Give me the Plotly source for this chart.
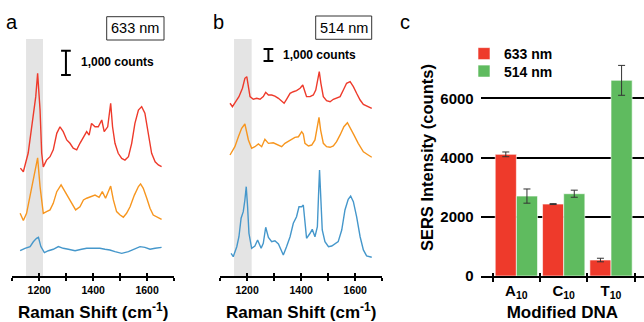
import plotly.graph_objects as go

# ---------------- Panel a (633 nm), counts; traces stacked with offsets ----------------
a_red_x = [1130, 1141, 1159, 1172, 1178, 1187, 1194, 1203, 1209, 1215, 1227, 1240, 1252, 1265, 1277, 1289,
           1302, 1314, 1326, 1339, 1351, 1364, 1376, 1385, 1394, 1407, 1419, 1432, 1441, 1454, 1465, 1472,
           1481, 1493, 1506, 1518, 1531, 1543, 1555, 1568, 1580, 1592, 1605, 1617, 1630, 1642, 1654]
a_red_y = [440, 290, 1060, 2140, 2830, 3380, 4340, 2830, 1060, 490, 770, 910, 1190, 1870, 2140, 1940,
           1600, 1460, 1260, 1190, 1460, 1730, 1940, 1800, 2280, 2140, 2140, 2420, 1940, 2140, 3110, 2140,
           1460, 1050, 840, 770, 910, 1460, 2280, 2830, 2970, 2700, 1870, 1050, 700, 570, 500]

a_orange_x = [1129, 1141, 1153, 1166, 1178, 1187, 1194, 1203, 1215, 1227, 1240, 1252, 1265, 1281, 1296,
              1308, 1320, 1335, 1351, 1364, 1376, 1392, 1407, 1422, 1434, 1446, 1456, 1465, 1475, 1487,
              1500, 1512, 1524, 1537, 1553, 1568, 1576, 1586, 1599, 1611, 1623, 1636, 1654]
a_orange_y = [580, 280, 580, 1260, 1950, 2360, 2860, 1680, 580, 650, 720, 990, 1470, 1750, 1470,
              1200, 990, 720, 850, 1130, 1200, 1260, 1330, 1240, 1470, 1200, 1470, 1700, 1130, 650,
              510, 420, 580, 850, 1330, 1680, 1790, 1610, 1200, 790, 510, 420, 330]

a_blue_x = [1129, 1147, 1166, 1178, 1190, 1197, 1206, 1219, 1234, 1252, 1271, 1289, 1308, 1333, 1357,
            1376, 1401, 1425, 1444, 1462, 1481, 1506, 1531, 1555, 1574, 1592, 1611, 1630, 1654]
a_blue_y = [1040, 1140, 1210, 1410, 1550, 1590, 1210, 960, 1040, 1100, 1210, 1140, 1100, 1040, 1100,
            1140, 1140, 1140, 1100, 1070, 1000, 930, 1000, 1100, 1210, 1180, 1100, 1140, 1180]

a_offsets = {"red": 4000, "orange": 2000, "blue": 0}

# ---------------- Panel b (514 nm) ----------------
b_red_x = [1137, 1146, 1158, 1170, 1183, 1192, 1199, 1205, 1211, 1223, 1236, 1248, 1260, 1269, 1279, 1291,
           1303, 1316, 1328, 1337, 1346, 1359, 1371, 1383, 1396, 1406, 1414, 1420, 1433, 1445, 1454, 1461,
           1467, 1473, 1482, 1494, 1507, 1519, 1531, 1544, 1556, 1568, 1581, 1593, 1605, 1618, 1630, 1642, 1661]
b_red_y = [1390, 1100, 1520, 1940, 2640, 3470, 3600, 2910, 1940, 1720, 1800, 1720, 1940, 2300, 2080, 2080,
           1990, 1800, 1600, 1390, 1720, 2220, 2350, 2440, 2640, 2910, 2350, 1940, 1940, 2080, 2490, 3470,
           4020, 3050, 1940, 1600, 1520, 1720, 1800, 1940, 2490, 3050, 3190, 2770, 2220, 1660, 1300, 1160, 970]

b_orange_x = [1137, 1155, 1168, 1180, 1192, 1205, 1217, 1229, 1242, 1254, 1266, 1279, 1297, 1316, 1328,
              1340, 1359, 1377, 1390, 1402, 1408, 1414, 1427, 1439, 1451, 1460, 1466, 1472, 1482, 1494,
              1507, 1519, 1531, 1544, 1558, 1571, 1583, 1595, 1611, 1630, 1648, 1661]
b_orange_y = [1080, 1770, 2600, 3300, 3660, 2330, 1640, 1770, 2000, 1770, 2390, 2050, 2100, 1910, 1770,
              2050, 2330, 2550, 2600, 3020, 2830, 2050, 1830, 1910, 2330, 3440, 4220, 3160, 2050, 1770,
              1720, 1830, 2190, 2750, 3440, 3770, 3300, 2750, 2050, 1350, 1080, 890]

b_blue_x = [1141, 1149, 1162, 1170, 1178, 1186, 1192, 1197, 1202, 1207, 1217, 1229, 1239, 1252, 1260,
            1269, 1279, 1291, 1303, 1316, 1326, 1334, 1346, 1359, 1371, 1383, 1392, 1402, 1408, 1414,
            1420, 1433, 1441, 1451, 1460, 1465, 1468, 1473, 1478, 1488, 1501, 1513, 1525, 1537, 1550,
            1562, 1574, 1583, 1593, 1605, 1618, 1630, 1642, 1661]
b_blue_y = [1890, 1610, 2440, 3270, 4810, 5360, 6330, 7440, 5770, 3560, 2310, 2500, 3000, 2310, 2720,
            4060, 3220, 2860, 2940, 2670, 2170, 1750, 2440, 3270, 4390, 4940, 5770, 5770, 5910, 4390,
            3140, 3560, 3890, 3270, 4110, 7160, 8830, 6330, 3830, 2860, 2440, 2500, 2670, 2860, 3830,
            5500, 6390, 6660, 6190, 4940, 3270, 2170, 1670, 1560]

b_offsets = {"red": 13000, "orange": 9000, "blue": 0}

# ---------------- Panel c: SERS intensity bars ----------------
dna = ["A<sub>10</sub>", "C<sub>10</sub>", "T<sub>10</sub>"]
sers_633 = [4110, 2430, 540]
sers_633_err = [80, 15, 60]
sers_514 = [2700, 2780, 6610]
sers_514_err = [240, 120, 505]

RED = "#ee3a2b"
ORANGE = "#f7961f"
BLUE = "#4597cb"
BAR_RED = "#ee3a2b"
BAR_GREEN = "#5fbb5f"
FONT = "Liberation Sans"

W, H = 644, 322
def px(x):
    return x / W
def py(y):
    return 1 - y / H

fig = go.Figure()

def add_spec(xs, ys, off, color, xa, ya):
    fig.add_trace(go.Scatter(x=xs, y=[v + off for v in ys], mode="lines",
                             line=dict(color=color, width=1.4), xaxis=xa, yaxis=ya,
                             showlegend=False, hoverinfo="skip"))

add_spec(a_red_x, a_red_y, a_offsets["red"], RED, "x", "y")
add_spec(a_orange_x, a_orange_y, a_offsets["orange"], ORANGE, "x", "y")
add_spec(a_blue_x, a_blue_y, a_offsets["blue"], BLUE, "x", "y")
add_spec(b_red_x, b_red_y, b_offsets["red"], RED, "x2", "y2")
add_spec(b_orange_x, b_orange_y, b_offsets["orange"], ORANGE, "x2", "y2")
add_spec(b_blue_x, b_blue_y, b_offsets["blue"], BLUE, "x2", "y2")

fig.add_trace(go.Bar(x=dna, y=sers_633, name="633 nm", legend="legend",
                     marker=dict(color=BAR_RED, line=dict(color="white", width=0.6)),
                     error_y=dict(type="data", array=sers_633_err, color="#333333", thickness=1, width=3.5),
                     xaxis="x3", yaxis="y3"))
fig.add_trace(go.Bar(x=dna, y=sers_514, name="514 nm", legend="legend2",
                     marker=dict(color=BAR_GREEN, line=dict(color="white", width=0.6)),
                     error_y=dict(type="data", array=sers_514_err, color="#333333", thickness=1, width=3.5),
                     xaxis="x3", yaxis="y3"))

# invisible traces to realise the overlay axes (inner half of the cross ticks)
for xa, ya in (("x4", "y"), ("x5", "y2"), ("x6", "y3")):
    fig.add_trace(go.Scatter(x=[None], y=[None], xaxis=xa, yaxis=ya, showlegend=False, hoverinfo="skip"))

spec_ticks = [1100, 1200, 1300, 1400, 1500, 1600, 1700]
spec_text = ["", "1200", "", "1400", "", "1600", ""]
ydom = [py(276), py(30)]

def spec_xaxis(dom, anchor):
    return dict(domain=dom, anchor=anchor, range=[1100, 1700], tickmode="array", tickvals=spec_ticks,
                ticktext=spec_text, ticks="outside", ticklen=3.5, tickwidth=1.5, tickcolor="black",
                showline=True, linecolor="black", linewidth=1.5, showgrid=False, zeroline=False,
                tickfont=dict(family=FONT, size=10.5, color="black", weight="bold"),
                title=dict(text="<b>Raman Shift (cm<sup>-1</sup>)</b>", font=dict(family=FONT, size=17, color="black"),
                           standoff=11))

def inner_ticks(over, anchor, rng, vals, dom):
    return dict(overlaying=over, anchor=anchor, range=rng, domain=dom, tickmode="array", tickvals=vals,
                ticks="inside", ticklen=3.5, tickwidth=1.5, tickcolor="black", showticklabels=False,
                showline=False, showgrid=False, zeroline=False)

dom_a = [px(12.3), px(174)]
dom_b = [px(220), px(382.3)]
dom_c = [px(480.7), 1.0]
rng_c = [-0.754, 2.697]

legend_font = dict(family=FONT, size=14, color="black", weight="bold")

fig.update_layout(
    width=W, height=H, margin=dict(l=0, r=0, t=0, b=0, autoexpand=False),
    paper_bgcolor="white", plot_bgcolor="white",
    font=dict(family=FONT, color="black"),
    barmode="group", bargap=0.106, bargroupgap=0,
    xaxis=spec_xaxis(dom_a, "y"),
    xaxis2=spec_xaxis(dom_b, "y2"),
    yaxis=dict(domain=ydom, range=[0, 246 * 41.15], visible=False),
    yaxis2=dict(domain=ydom, range=[0, 246 * 83.3], visible=False),
    xaxis4=inner_ticks("x", "y", [1100, 1700], spec_ticks, dom_a),
    xaxis5=inner_ticks("x2", "y2", [1100, 1700], spec_ticks, dom_b),
    xaxis3=dict(domain=dom_c, anchor="y3", type="category", range=rng_c, tickson="boundaries",
                ticks="outside", ticklen=4, tickwidth=1.5, tickcolor="black",
                showline=True, linecolor="black", linewidth=1.5, showgrid=False,
                tickfont=dict(family=FONT, size=15, color="black", weight="bold"),
                title=dict(text="<b>Modified DNA</b>", font=dict(family=FONT, size=17, color="black"), standoff=8)),
    xaxis6=inner_ticks("x3", "y3", rng_c, [-0.5, 0.5, 1.5, 2.5], dom_c),
    yaxis3=dict(domain=[py(276), py(39.2)], anchor="x3", range=[0, 8000], tickmode="array",
                tickvals=[0, 2000, 4000, 6000], showgrid=True, gridcolor="black", gridwidth=1.5,
                zeroline=False, showline=False, ticks="", ticklabelstandoff=6,
                tickfont=dict(family=FONT, size=15, color="black", weight="bold"),
                title=dict(text="<b>SERS Intensity (counts)</b>", font=dict(family=FONT, size=16.5, color="black"),
                           standoff=2)),
    legend=dict(x=px(464), y=py(38), xanchor="left", yanchor="top", bgcolor="rgba(0,0,0,0)",
                font=legend_font),
    legend2=dict(x=px(464), y=py(55.5), xanchor="left", yanchor="top", bgcolor="rgba(0,0,0,0)",
                 font=legend_font),
    showlegend=True,
)

# grey highlight bands
fig.add_shape(type="rect", xref="x", yref="y", x0=1151, x1=1214, y0=0, y1=9750,
              fillcolor="#e4e4e4", line=dict(width=0), layer="below")
fig.add_shape(type="rect", xref="x2", yref="y2", x0=1152, x1=1217, y0=0, y1=19740,
              fillcolor="#e4e4e4", line=dict(width=0), layer="below")

# scale bars (1,000 counts)
for xr, yr, xc, y0, half in (("x", "y", 1299, 8270, 18), ("x2", "y2", 1279, 17910, 18)):
    fig.add_shape(type="line", xref=xr, yref=yr, x0=xc, x1=xc, y0=y0, y1=y0 + 1000, line=dict(color="black", width=2))
    for yy in (y0, y0 + 1000):
        fig.add_shape(type="line", xref=xr, yref=yr, x0=xc - half, x1=xc + half, y0=yy, y1=yy,
                      line=dict(color="black", width=2))

# wavelength boxes
for (x0, x1, y0, y1, txt) in ((106.7, 164, 16.7, 40, "633 nm"), (315.7, 371.7, 16, 39.3, "514 nm")):
    fig.add_shape(type="rect", xref="paper", yref="paper", x0=px(x0), x1=px(x1), y0=py(y1), y1=py(y0),
                  line=dict(color="#333333", width=1), fillcolor="rgba(0,0,0,0)")
    fig.add_annotation(x=px((x0 + x1) / 2), y=py((y0 + y1) / 2), xref="paper", yref="paper", text=txt,
                       showarrow=False, xanchor="center", yanchor="middle",
                       font=dict(family=FONT, size=14.5, color="black"))

for xl, yc in ((79, 62), (281, 55)):
    fig.add_annotation(x=px(xl), y=py(yc), xref="paper", yref="paper", text="<b>1,000 counts</b>",
                       showarrow=False, xanchor="left", yanchor="middle",
                       font=dict(family=FONT, size=12, color="black"))

for lab, xc in (("a", 12.3), ("b", 218.5), ("c", 405.3)):
    fig.add_annotation(x=px(xc), y=py(22), xref="paper", yref="paper", text=lab, showarrow=False,
                       xanchor="center", yanchor="middle", font=dict(family=FONT, size=20, color="black"))

fig.write_html("out.html", config={"displayModeBar": False},
               post_script="document.body.style.margin='0';document.body.style.overflow='hidden';")
